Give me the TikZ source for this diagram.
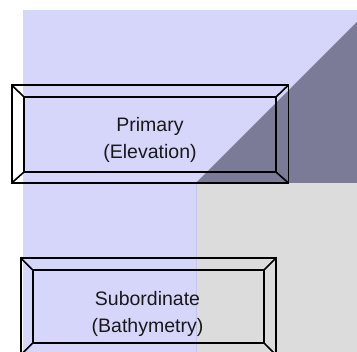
\documentclass[tikz,border=0pt]{standalone}
\usepackage{fontspec}
\setmainfont{Liberation Sans}
\definecolor{bgblue}{RGB}{214,214,251}
\definecolor{darkpart}{RGB}{123,123,152}
\definecolor{graypart}{RGB}{220,220,220}
\definecolor{edgeblue}{RGB}{196,196,236}
\tikzset{
  framebox/.style={draw=black, line width=1.6pt, rectangle, inner sep=0pt, outer sep=0pt},
  boxtext/.style={align=center, inner sep=0pt, font=\fontsize{19.5}{27}\selectfont, text=black!90}
}
\begin{document}
\begin{tikzpicture}[x=1pt,y=-1pt]
\useasboundingbox (0,0) rectangle (357,352);
\clip (0,0) rectangle (357,352);
% backgrounds
\fill[bgblue] (23,10) rectangle (357,352);
\fill[graypart] (196,183) rectangle (357,352);
\draw[edgeblue, line width=0.8pt] (196,183) -- (196,352);
\fill[darkpart] (196,183) -- (357,22) -- (357,183) -- cycle;
% Primary box
\node[framebox, minimum width=276.8pt, minimum height=98pt] (prim) at (150.1,134) {};
\node[framebox, minimum width=252pt, minimum height=75pt] (primin) at (150,134.5) {};
\draw[line width=1.6pt] (prim.north west) -- (primin.north west)
  (prim.north east) -- (primin.north east)
  (prim.south west) -- (primin.south west)
  (prim.south east) -- (primin.south east);
\node[boxtext] (primtxt) at (150,139.5) {Primary\\(Elevation)};
% Subordinate box
\node[framebox, minimum width=255.3pt, minimum height=97pt] (sub) at (148.35,306.5) {};
\node[framebox, minimum width=231.3pt, minimum height=73pt] (subin) at (148.35,306.5) {};
\draw[line width=1.6pt] (sub.north west) -- (subin.north west)
  (sub.north east) -- (subin.north east)
  (sub.south west) -- (subin.south west)
  (sub.south east) -- (subin.south east);
\node[boxtext] (subtxt) at (147.5,313.5) {Subordinate\\(Bathymetry)};
\end{tikzpicture}
\end{document}
